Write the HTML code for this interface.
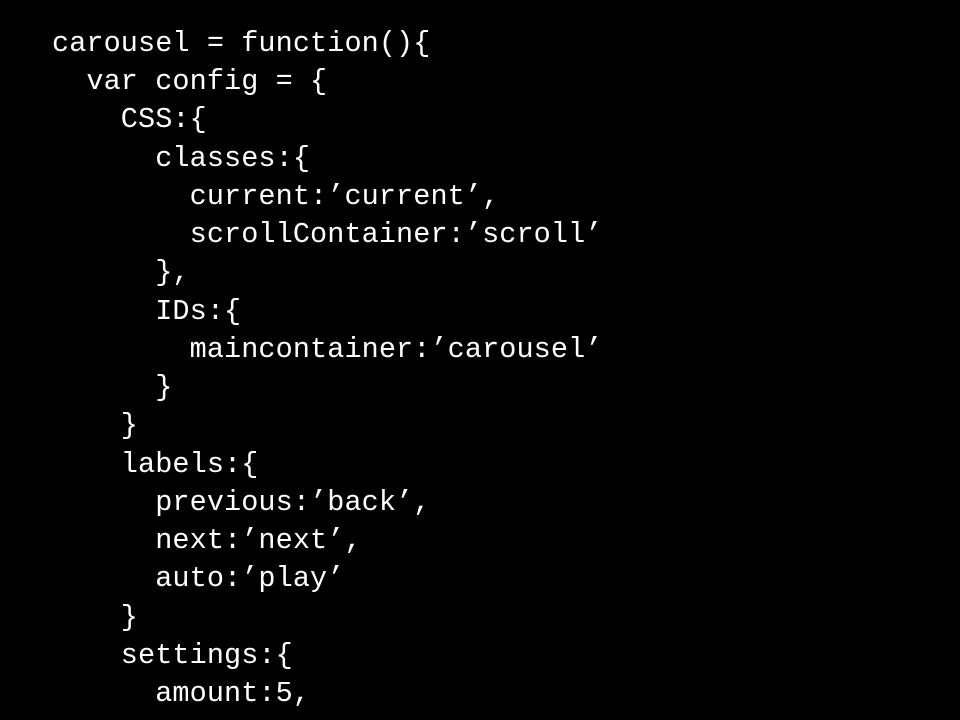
<!DOCTYPE html>
<html><head><meta charset="utf-8"><style>
html,body{margin:0;padding:0;background:#000;width:960px;height:720px;overflow:hidden}
pre{position:absolute;left:52px;top:25px;margin:0;color:#fff;font-family:"Liberation Mono",monospace;font-size:28.5px;line-height:38.24px;letter-spacing:0.1px}
</style></head><body><pre>carousel = function(){
  var config = {
    CSS:{
      classes:{
        current:’current’,
        scrollContainer:’scroll’
      },
      IDs:{
        maincontainer:’carousel’
      }
    }
    labels:{
      previous:’back’,
      next:’next’,
      auto:’play’
    }
    settings:{
      amount:5,</pre></body></html>
